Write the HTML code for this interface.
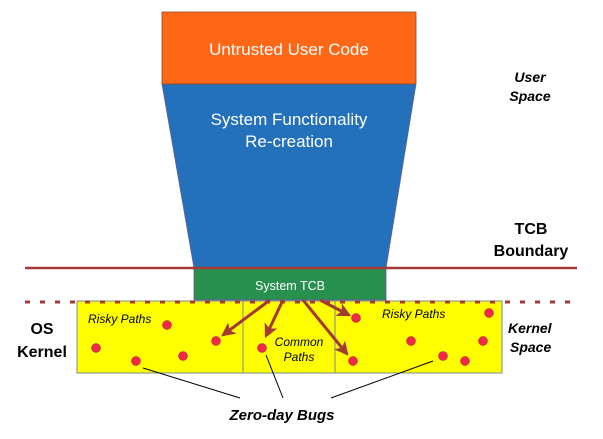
<!DOCTYPE html>
<html><head><style>
body{margin:0;background:#fff;}
svg{display:block;}
</style></head><body>
<svg width="603" height="439" viewBox="0 0 603 439" xmlns="http://www.w3.org/2000/svg">
<defs>
<marker id="ah2" viewBox="0 0 12 12" markerWidth="14" markerHeight="14" refX="10" refY="6" orient="auto" markerUnits="userSpaceOnUse">
<path d="M0,0 L12,6 L0,12 L3,6 Z" fill="#a33a36"/>
</marker>
</defs>
<path d="M162,84 L416,84 L386,268 L194,268 Z" fill="#2370bb" stroke="#6a5a9a" stroke-width="0.8"/>
<rect x="162" y="12" width="254" height="72" fill="#fd6716" stroke="#8a4a2a" stroke-width="0.8"/>
<g font-family="Liberation Sans, sans-serif" fill="#fff" text-anchor="middle">
<text x="289" y="55" font-size="17">Untrusted User Code</text>
<text x="289" y="125" font-size="17">System Functionality</text>
<text x="289" y="147" font-size="17">Re-creation</text>
</g>
<rect x="77" y="301" width="425" height="72" fill="#fefe00" stroke="#7a8a9a" stroke-width="1"/>
<line x1="243" y1="301" x2="243" y2="373" stroke="#7a8a9a" stroke-width="1"/>
<line x1="335" y1="301" x2="335" y2="373" stroke="#7a8a9a" stroke-width="1"/>
<rect x="194" y="268" width="192" height="32" fill="#27904f" stroke="#6a5a9a" stroke-width="0.8"/>
<text x="290" y="290" font-family="Liberation Sans, sans-serif" font-size="12.5" fill="#fff" text-anchor="middle">System TCB</text>
<line x1="25" y1="268" x2="577" y2="268" stroke="#a33a36" stroke-width="2.5"/>
<line x1="25" y1="302" x2="575" y2="302" stroke="#a33a36" stroke-width="3" stroke-dasharray="5,10"/>
<g stroke="#a33a36" stroke-width="3" fill="none">
<line x1="270" y1="300" x2="223" y2="335" marker-end="url(#ah2)"/>
<line x1="283" y1="300" x2="266" y2="336" marker-end="url(#ah2)"/>
<line x1="303" y1="300" x2="347" y2="354" marker-end="url(#ah2)"/>
<line x1="320" y1="300" x2="349" y2="315" marker-end="url(#ah2)"/>
</g>
<g fill="#ee2a4a" stroke="#c01030" stroke-width="0.5">
<circle cx="167" cy="325" r="4.5"/><circle cx="96" cy="348" r="4.5"/><circle cx="136" cy="361" r="4.5"/>
<circle cx="183" cy="356" r="4.5"/><circle cx="216" cy="341" r="4.5"/><circle cx="262" cy="348" r="4.5"/>
<circle cx="356" cy="318" r="4.5"/><circle cx="489" cy="313" r="4.5"/><circle cx="411" cy="341" r="4.5"/>
<circle cx="483" cy="341" r="4.5"/><circle cx="443" cy="356" r="4.5"/><circle cx="465" cy="361" r="4.5"/>
<circle cx="353" cy="361" r="4.5"/>
</g>
<g font-family="Liberation Sans, sans-serif" font-size="12" font-style="italic" fill="#000">
<text x="88" y="323">Risky Paths</text>
<text x="382" y="318">Risky Paths</text>
<text x="299" y="346" text-anchor="middle">Common</text>
<text x="299" y="361" text-anchor="middle">Paths</text>
</g>
<g stroke="#000" stroke-width="1">
<line x1="143" y1="368" x2="240" y2="398"/>
<line x1="266" y1="355" x2="283" y2="398"/>
<line x1="433" y1="361" x2="331" y2="398"/>
</g>
<text x="282" y="420" font-family="Liberation Sans, sans-serif" font-size="15" font-style="italic" font-weight="bold" text-anchor="middle">Zero-day Bugs</text>
<g font-family="Liberation Sans, sans-serif" fill="#000">
<text x="530" y="82" font-size="14" font-style="italic" font-weight="bold" text-anchor="middle">User</text>
<text x="530" y="101" font-size="14" font-style="italic" font-weight="bold" text-anchor="middle">Space</text>
<text x="531" y="234" font-size="16" font-weight="bold" text-anchor="middle">TCB</text>
<text x="531" y="256" font-size="16" font-weight="bold" text-anchor="middle">Boundary</text>
<text x="42" y="334" font-size="16" font-weight="bold" text-anchor="middle">OS</text>
<text x="42" y="357" font-size="16" font-weight="bold" text-anchor="middle">Kernel</text>
<text x="508" y="333" font-size="14" font-style="italic" font-weight="bold">Kernel</text>
<text x="510" y="352" font-size="14" font-style="italic" font-weight="bold">Space</text>
</g>
</svg>
</body></html>
